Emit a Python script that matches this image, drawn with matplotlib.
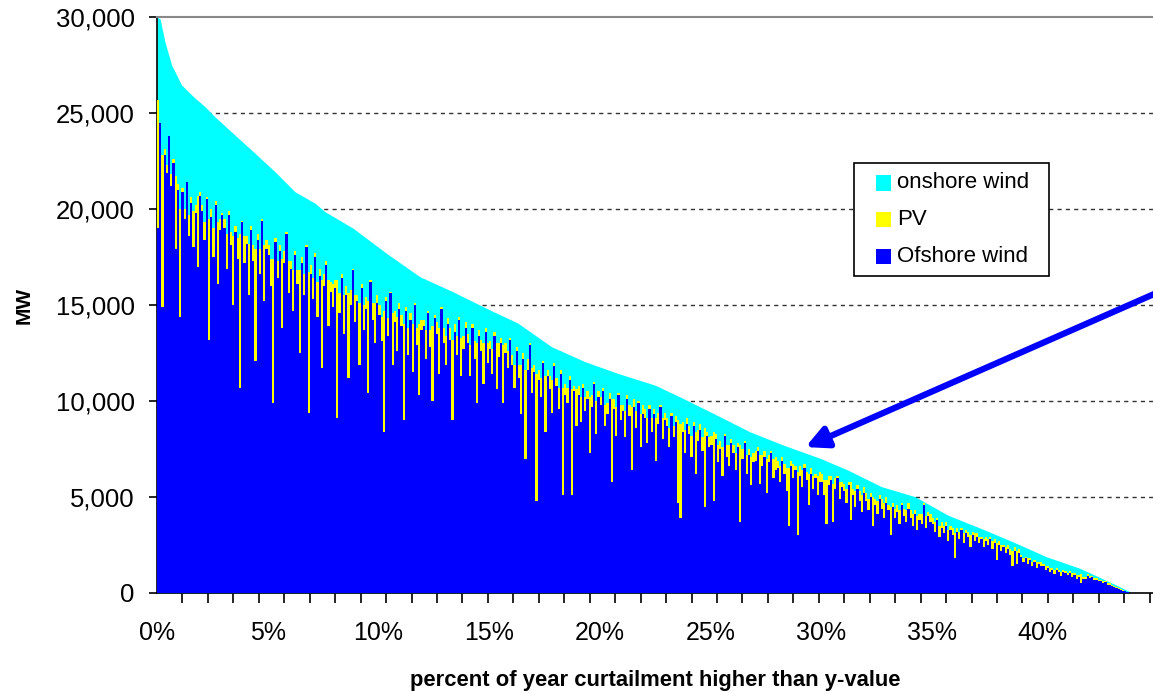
import numpy as np
import matplotlib
matplotlib.use("Agg")
import matplotlib.pyplot as plt
from matplotlib.patches import Rectangle
from matplotlib.ticker import FuncFormatter

plt.rcParams['font.family'] = ['Liberation Sans', 'DejaVu Sans']

# top of the stack (all curtailed power) as a duration curve, % of year -> MW
total_pct = [0, 0.14, 0.36, 0.66, 1.11, 1.71, 2.17, 2.62, 3.52, 4.43, 5.33, 6.23,
             7.14, 7.59, 8.87, 10.37, 11.88, 13.37, 15.04, 16.3, 17.82, 19.33,
             20.82, 22.49, 23.76, 25.28, 26.78, 28.28, 29.95, 31.2, 32.73, 34.24,
             35.72, 37.4, 38.66, 40.18, 41.69, 43.18, 43.95]
total_mw = [30000, 29900, 28700, 27500, 26460, 25780, 25330, 24800, 23850, 22900,
            21940, 20900, 20300, 19860, 18990, 17690, 16470, 15690, 14740, 14060,
            12830, 12050, 11440, 10830, 10140, 9270, 8400, 7710, 7020, 6410, 5540,
            5020, 4060, 3280, 2670, 1890, 1290, 500, 70]

# offshore wind and PV in each column, one column per 0.1 % of the year
offshore_mw = [
    19000, 24500, 14900, 22800, 21900, 23800, 21200, 22400, 17900, 21000,
    14400, 20900, 19500, 21400, 18600, 20300, 18000, 19800, 17000, 20700,
    19900, 18400, 20500, 13200, 19600, 17500, 20200, 16100, 18900, 19700,
    19000, 16900, 19700, 18100, 15000, 18800, 17400, 10700, 19300, 17200,
    18200, 15500, 18900, 17300, 12100, 18400, 16600, 19400, 15200, 17900,
    17600, 16000, 9900, 18300, 16400, 17800, 13800, 17200, 18700, 15600,
    16900, 14700, 17600, 16100, 12500, 17200, 15500, 18000, 9400, 16600,
    15300, 17500, 14400, 16500, 11700, 16000, 17100, 13900, 15700, 14900,
    15900, 9100, 14600, 16400, 13500, 15500, 11200, 15000, 16800, 14100,
    15200, 11900, 15900, 13700, 14800, 10400, 16200, 14200, 13000, 15100,
    14500, 13100, 8400, 15200, 13400, 15600, 11900, 14100, 12600, 14800,
    13900, 9000, 14700, 12400, 14200, 11500, 15000, 12900, 10300, 13700,
    13900, 12200, 14600, 12800, 10000, 14300, 13500, 11400, 14800, 13000,
    11900, 14000, 13200, 9000, 13600, 12400, 14200, 11300, 12700, 13800,
    13000, 11300, 13800, 12200, 9900, 13400, 12600, 10900, 13600, 12000,
    12700, 11400, 13400, 10600, 12300, 13000, 9900, 12500, 11700, 13200,
    11900, 10700, 12600, 11200, 9300, 12200, 7000, 11600, 12900, 10400,
    11500, 4800, 11100, 10200, 12000, 8400, 11300, 10600, 9400, 11800,
    10800, 9600, 11400, 5100, 10300, 9900, 11100, 5100, 10500, 8700,
    10300, 8900, 10700, 9500, 10100, 7300, 9700, 10900, 8300, 10200,
    9800, 10500, 8700, 9300, 10100, 5800, 9600, 8200, 10300, 9000,
    9500, 8100, 10100, 9200, 6400, 9700, 8600, 9900, 7600, 9300,
    9100, 7800, 9600, 8400, 9300, 6900, 8800, 9700, 8000, 9000,
    8700, 7600, 9200, 8100, 8900, 4700, 3900, 8400, 7300, 8800,
    8300, 7100, 8700, 6200, 7900, 8500, 7400, 4500, 8200, 7600,
    7700, 4800, 8000, 6800, 7500, 6100, 8200, 7100, 6600, 7800,
    7300, 6400, 7600, 3700, 7000, 7800, 6200, 7200, 5600, 6800,
    6900, 7400, 5700, 6600, 7100, 5200, 6800, 7300, 6000, 6400,
    6500, 5800, 6900, 6200, 5300, 3500, 6600, 6000, 6400, 3000,
    6100, 5500, 6500, 5900, 4600, 6200, 5400, 6000, 5100, 5800,
    5800, 5100, 3600, 5600, 5900, 3700, 5400, 6000, 4900, 5500,
    5300, 4700, 5600, 3800, 5100, 4500, 5400, 4800, 4200, 5200,
    4800, 4300, 5000, 3500, 4600, 4100, 4900, 4400, 3900, 4700,
    4300, 3000, 4500, 3900, 4200, 3600, 4600, 4000, 3700, 4400,
    3900, 3500, 4100, 3300, 3800, 3600, 4600, 3400, 4000, 3700,
    3600, 3200, 3800, 2900, 3400, 3100, 3500, 2700, 3300, 3000,
    1800, 3200, 2800, 3300, 2600, 3100, 2900, 2400, 3000, 2700,
    2900, 2600, 2800, 2400, 2700, 2500, 2800, 2300, 2600, 1700,
    2500, 2200, 2400, 2100, 2300, 2000, 1400, 2200, 1500, 2100,
    1900, 1600, 1800, 1500, 1700, 1400, 1600, 1300, 1500, 1400,
    1400, 1200, 1300, 1100, 1200, 1000, 1200, 1100, 900, 1100,
    1050, 950, 1050, 850, 950, 750, 850, 500, 750, 750,
    900, 800, 850, 700, 700, 600, 650, 500, 550, 400,
    420, 380, 330, 280, 230, 180, 130, 80, 40,
]
pv_mw = [
    6700, 0, 7900, 300, 400, 0, 600, 200, 3800, 300,
    5600, 200, 500, 0, 1100, 300, 1900, 400, 3700, 200,
    300, 900, 100, 6300, 400, 1500, 200, 3200, 600, 100,
    500, 1800, 200, 700, 3600, 300, 1100, 8000, 100, 1400,
    400, 2700, 200, 800, 5800, 300, 1300, 100, 2900, 500,
    500, 1400, 7500, 200, 900, 300, 3600, 600, 100, 1700,
    400, 2100, 200, 700, 4300, 300, 1100, 100, 7300, 500,
    1100, 200, 1800, 400, 4600, 600, 200, 2400, 500, 1200,
    400, 7200, 1000, 200, 2000, 500, 4400, 800, 100, 1400,
    300, 3200, 200, 1300, 600, 4800, 100, 900, 2100, 400,
    500, 1300, 6300, 200, 900, 100, 2700, 600, 1800, 300,
    600, 5000, 200, 1400, 400, 2500, 100, 900, 3700, 500,
    300, 1500, 100, 900, 3900, 200, 600, 2400, 100, 800,
    1500, 300, 600, 4200, 400, 1000, 200, 2000, 700, 300,
    500, 1600, 200, 900, 3100, 300, 600, 2100, 200, 1000,
    400, 1300, 200, 2400, 700, 300, 3000, 500, 900, 100,
    500, 1200, 200, 700, 2600, 300, 4600, 600, 100, 1300,
    400, 6600, 500, 1000, 100, 2900, 300, 700, 1700, 200,
    400, 1100, 200, 5600, 600, 800, 200, 5500, 300, 1900,
    500, 1300, 200, 700, 400, 2900, 600, 100, 1700, 300,
    400, 200, 1100, 600, 300, 4300, 500, 1500, 100, 800,
    300, 1400, 200, 600, 3300, 400, 900, 100, 1700, 500,
    500, 1300, 200, 700, 300, 2200, 600, 100, 1100, 400,
    400, 1000, 200, 600, 300, 4300, 4900, 500, 1200, 300,
    400, 1100, 200, 2200, 600, 300, 700, 4100, 200, 500,
    500, 3600, 300, 900, 400, 1500, 100, 600, 1100, 200,
    400, 900, 200, 4000, 500, 100, 1000, 300, 1500, 500,
    500, 200, 1500, 600, 300, 1800, 400, 100, 1000, 700,
    400, 800, 200, 500, 1200, 3000, 300, 700, 200, 3300,
    500, 900, 200, 400, 1600, 300, 700, 200, 1000, 500,
    400, 800, 2300, 500, 200, 2000, 600, 100, 900, 300,
    400, 700, 200, 2000, 300, 800, 200, 500, 900, 300,
    400, 600, 200, 1500, 300, 700, 200, 500, 800, 300,
    300, 1500, 200, 500, 400, 700, 100, 400, 600, 300,
    400, 600, 200, 700, 300, 500, 100, 600, 200, 400,
    300, 500, 100, 600, 300, 400, 200, 600, 200, 400,
    1300, 200, 400, 100, 500, 200, 300, 600, 200, 400,
    200, 300, 100, 400, 200, 300, 100, 400, 200, 900,
    200, 300, 100, 300, 200, 300, 800, 200, 700, 200,
    100, 200, 100, 300, 100, 200, 100, 300, 100, 200,
    100, 200, 100, 200, 100, 200, 100, 100, 200, 100,
    100, 100, 100, 200, 100, 200, 100, 500, 100, 100,
    100, 100, 50, 100, 100, 100, 50, 100, 50, 100,
    80, 60, 60, 50, 40, 40, 30, 20, 10,
]

BAR_STEP = 0.1
CYAN, YELLOW, BLUE = '#00FFFF', '#FFFF00', '#0000FF'
W, H = 1153, 692

fig = plt.figure(figsize=(W / 100, H / 100), dpi=100)
ax = fig.add_axes([157 / W, 1 - 593 / H, 996 / W, 576 / H])

x = np.arange(len(offshore_mw)) * BAR_STEP
ax.fill_between(total_pct, 0, total_mw, color=CYAN, lw=0, zorder=2)
ax.bar(x, offshore_mw, width=BAR_STEP, align='edge', color=BLUE, lw=0,
       antialiased=False, zorder=3)
ax.bar(x, pv_mw, bottom=offshore_mw, width=BAR_STEP, align='edge', color=YELLOW,
       lw=0, antialiased=False, zorder=3)

ax.set_xlim(0, 45)
ax.set_ylim(0, 30000)

# dashed gridlines behind the bars, solid grey line along the top
for y in range(5000, 30000, 5000):
    ax.axhline(y, color='#333333', lw=1, ls=(0, (3, 3)), zorder=1)
ax.spines['top'].set_color('#888888')
ax.spines['top'].set_linewidth(1.5)
ax.spines['right'].set_visible(False)
ax.spines['left'].set_linewidth(1.2)
ax.spines['bottom'].set_linewidth(1.2)

ax.set_yticks(range(0, 30001, 5000))
ax.yaxis.set_major_formatter(FuncFormatter(lambda v, p: f"{int(v):,}"))
ax.tick_params(axis='y', length=6, width=1.2, pad=10, labelsize=18.5)

ax.set_xticks(range(0, 41, 5))
ax.xaxis.set_major_formatter(FuncFormatter(lambda v, p: f"{int(v)}%"))
ax.set_xticks(np.arange(0, 45, 1.15), minor=True)
ax.tick_params(axis='x', which='major', length=0, pad=20, labelsize=18)
ax.tick_params(axis='x', which='minor', length=7, width=1.2)

ax.set_ylabel('MW', fontsize=15, fontweight='bold', labelpad=16)
ax.set_xlabel('percent of year curtailment higher than y-value', fontsize=15.8,
              fontweight='bold', labelpad=18)

# legend box with square swatches
fig.patches.append(Rectangle((854 / W, 1 - 276 / H), 195 / W, 113 / H,
                             transform=fig.transFigure, facecolor='white',
                             edgecolor='black', lw=1.2, zorder=6))
legend_items = [('onshore wind', CYAN), ('PV', YELLOW), ('Ofshore wind', BLUE)]
for k, (name, colour) in enumerate(legend_items):
    row = 183 + 36.7 * k
    fig.patches.append(Rectangle((876 / W, 1 - (row + 7.5) / H), 15 / W, 15 / H,
                                 transform=fig.transFigure, facecolor=colour,
                                 lw=0, zorder=7))
    fig.text(897 / W, 1 - row / H, name, fontsize=16, va='center', ha='left',
             zorder=8)

ax.annotate('', xy=(29.3, 7600), xytext=(45.4, 15750),
            arrowprops=dict(arrowstyle='-|>,head_length=1.3,head_width=0.65',
                            mutation_scale=10, color=BLUE, lw=4.5,
                            shrinkA=0, shrinkB=0),
            annotation_clip=False, zorder=5)

fig.savefig('out.png', dpi=100)
